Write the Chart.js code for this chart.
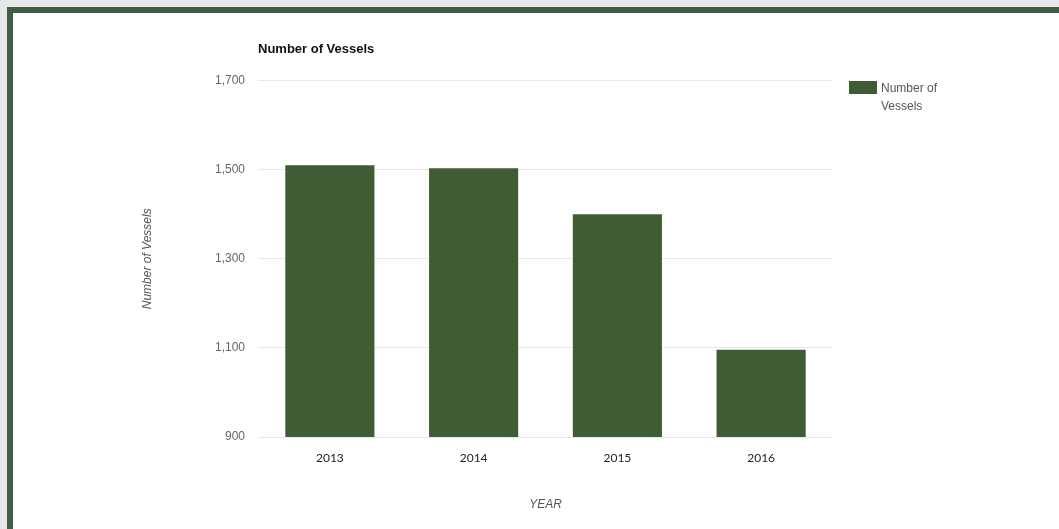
<!DOCTYPE html>
<html>
<head>
<meta charset="utf-8">
<script src="https://cdn.jsdelivr.net/npm/chart.js@4"></script>
<style>
    html, body { margin: 0; padding: 0; background: #e6e7e6; }
    body { width: 1059px; height: 529px; overflow: hidden; position: relative; }
    #frame {
        position: absolute; left: 7px; top: 7px; width: 1100px; height: 600px;
        border: 6px solid #3f5f45; background: #fff;
    }
    #chartWrap { position: absolute; left: 0; top: 0; width: 1059px; height: 529px; }
    #legend {
        position: absolute; left: 849px; top: 80px;
        font: 12px "Liberation Sans", Arial, sans-serif; color: #555; line-height: 18px;
    }
    #legend .box {
        position: absolute; left: 0; top: 1px; width: 28px; height: 13px; background: #3f5c34;
    }
    #legend .txt { margin-left: 32px; margin-top: -1px; }
</style>
</head>
<body>
<div id="frame"></div>
<div id="chartWrap"><canvas id="vesselChart" width="1059" height="529"></canvas></div>
<div id="legend"><div class="box"></div><div class="txt">Number of<br>Vessels</div></div>
<script>
// Data
const years = ['2013', '2014', '2015', '2016'];
const vessels = [1510, 1503, 1400, 1096];
const yTicks = [900, 1100, 1300, 1500, 1700];

const ctx = document.getElementById('vesselChart').getContext('2d');
new Chart(ctx, {
    type: 'bar',
    data: {
        labels: years,
        datasets: [{
            label: 'Number of Vessels',
            data: vessels,
            backgroundColor: '#3f5c34',
            categoryPercentage: 0.62,
            barPercentage: 1
        }]
    },
    options: {
        responsive: false,
        animation: false,
        layout: { padding: { left: 136, right: 226, top: 42, bottom: 13 } },
        plugins: {
            legend: { display: false },
            tooltip: { enabled: false },
            title: {
                display: true,
                text: 'Number of Vessels',
                align: 'start',
                fullSize: false,
                color: '#111',
                font: { family: '"Liberation Sans", Arial, sans-serif', size: 13, weight: 'bold' },
                padding: { top: 0, bottom: 23 }
            }
        },
        scales: {
            x: {
                grid: { display: false },
                border: { display: false },
                ticks: {
                    color: '#222',
                    padding: 6,
                    font: { family: 'Lato, sans-serif', size: 12 }
                },
                title: {
                    display: true,
                    text: 'YEAR',
                    color: '#555',
                    font: { family: '"Liberation Sans", Arial, sans-serif', size: 12, style: 'italic' }
                },
                afterFit: function(scale) { scale.height = 79; }
            },
            y: {
                min: 900,
                max: 1700,
                afterBuildTicks: function(scale) {
                    scale.ticks = yTicks.map(v => ({ value: v }));
                },
                grid: { color: '#e8e8e8', drawTicks: false },
                border: { display: false },
                ticks: {
                    color: '#666',
                    padding: 13,
                    font: { family: '"Liberation Sans", Arial, sans-serif', size: 12 },
                    callback: v => v.toLocaleString('en-US')
                },
                title: {
                    display: true,
                    text: 'Number of Vessels',
                    color: '#555',
                    font: { family: '"Liberation Sans", Arial, sans-serif', size: 12, style: 'italic' }
                },
                afterFit: function(scale) { scale.width = 122; }
            }
        }
    }
});
</script>
</body>
</html>
